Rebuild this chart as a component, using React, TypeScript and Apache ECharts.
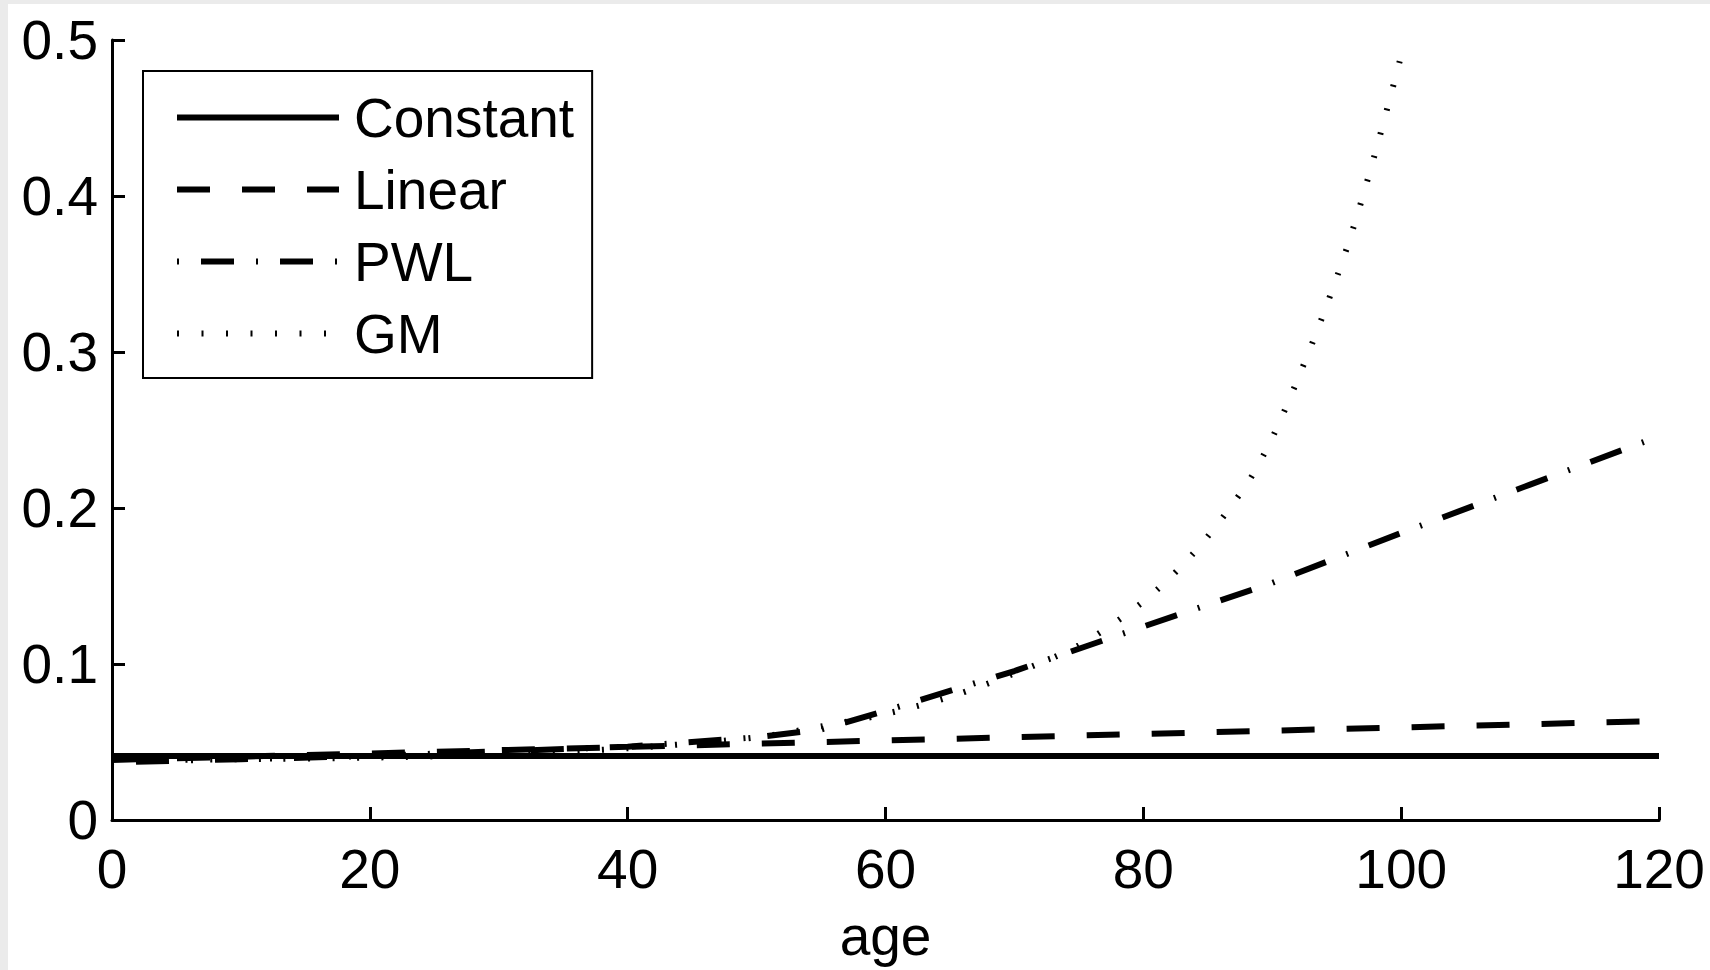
import React, { useEffect, useRef } from "react";
import * as echarts from "echarts";

// Hazard rate by age for four mortality models
const constantAges = [0, 120];
const constantRate = [0.041, 0.041];

const linearAges = [0, 120];
const linearRate = [0.0385, 0.0635];

const pwlAges = [0, 10, 20, 30, 40, 50, 55, 60, 70, 80, 90, 100, 110, 120];
const pwlRate = [0.037, 0.039, 0.041, 0.044, 0.047, 0.053, 0.058, 0.07, 0.0955, 0.124, 0.152, 0.184, 0.215, 0.246];

const gmAges = [0, 10, 20, 30, 40, 50, 55, 60, 65, 70, 75, 80, 84, 88, 90, 92, 94, 96, 98, 100];
const gmRate = [0.038, 0.039, 0.04, 0.042, 0.046, 0.053, 0.06, 0.068, 0.079, 0.094, 0.112, 0.14, 0.172, 0.215, 0.245, 0.283, 0.325, 0.372, 0.428, 0.49];

const seriesNames = ["Constant", "Linear", "PWL", "GM"];
const xTicks = [0, 20, 40, 60, 80, 100, 120];
const yTicks = [0, 0.1, 0.2, 0.3, 0.4, 0.5];

const FONT = "Liberation Sans";
const FS = 55;

const pairs = (xs: number[], ys: number[]) => xs.map((x, i) => [x, ys[i]]);

export default function App() {
  const ref = useRef<HTMLDivElement>(null);

  useEffect(() => {
    if (!ref.current) return;
    const chart = echarts.init(ref.current, undefined, { renderer: "svg" });

    const lineSeries = (name: string, data: number[][], dash: any, smooth: number | boolean = false) => ({
      name,
      type: "line",
      data,
      symbol: "none",
      smooth,
      lineStyle: { color: "#000", width: 6, type: dash, cap: "butt" },
      itemStyle: { color: "#000" },
      emphasis: { disabled: true },
    });

    chart.setOption({
      animation: false,
      backgroundColor: "#fff",
      textStyle: { fontFamily: FONT, color: "#000" },
      grid: { left: 104, top: 36, right: 51, bottom: 150, containLabel: false },
      xAxis: {
        type: "value",
        min: xTicks[0],
        max: xTicks[xTicks.length - 1],
        interval: 20,
        name: "age",
        nameLocation: "middle",
        nameGap: 88,
        nameTextStyle: { fontFamily: FONT, fontSize: FS, color: "#000" },
        axisLine: { show: true, onZero: false, lineStyle: { color: "#000", width: 3 } },
        axisTick: { show: true, inside: true, length: 13, lineStyle: { color: "#000", width: 3 } },
        axisLabel: { margin: 21, fontFamily: FONT, fontSize: FS, color: "#000" },
        splitLine: { show: false },
      },
      yAxis: {
        type: "value",
        min: yTicks[0],
        max: yTicks[yTicks.length - 1],
        interval: 0.1,
        axisLine: { show: true, onZero: false, lineStyle: { color: "#000", width: 3 } },
        axisTick: { show: true, inside: true, length: 13, lineStyle: { color: "#000", width: 3 } },
        axisLabel: { margin: 14, fontFamily: FONT, fontSize: FS, color: "#000" },
        splitLine: { show: false },
      },
      legend: {
        data: seriesNames,
        orient: "vertical",
        left: 135,
        top: 67,
        padding: [19, 18, 17, 31],
        itemWidth: 162,
        itemHeight: 20,
        itemGap: 17,
        borderColor: "#000",
        borderWidth: 2,
        backgroundColor: "#fff",
        selectedMode: false,
        lineStyle: { width: 6 },
        itemStyle: { color: "rgba(0,0,0,0)", borderWidth: 0, opacity: 0 },
        textStyle: { fontFamily: FONT, fontSize: FS, color: "#000", padding: [0, 0, 0, 10] },
      },
      series: [
        lineSeries("Constant", pairs(constantAges, constantRate), "solid"),
        lineSeries("Linear", pairs(linearAges, linearRate), [33, 32]),
        lineSeries("PWL", pairs(pwlAges, pwlRate), [2, 22, 33, 22]),
        lineSeries("GM", pairs(gmAges, gmRate), [2, 22.5], 0.3),
      ],
    });

    return () => chart.dispose();
  }, []);

  return (
    <div style={{ position: "fixed", inset: 0, background: "#ebebeb" }}>
      <div
        ref={ref}
        style={{ position: "absolute", left: 8, top: 4, width: 1702, height: 966, background: "#fff" }}
      />
    </div>
  );
}
